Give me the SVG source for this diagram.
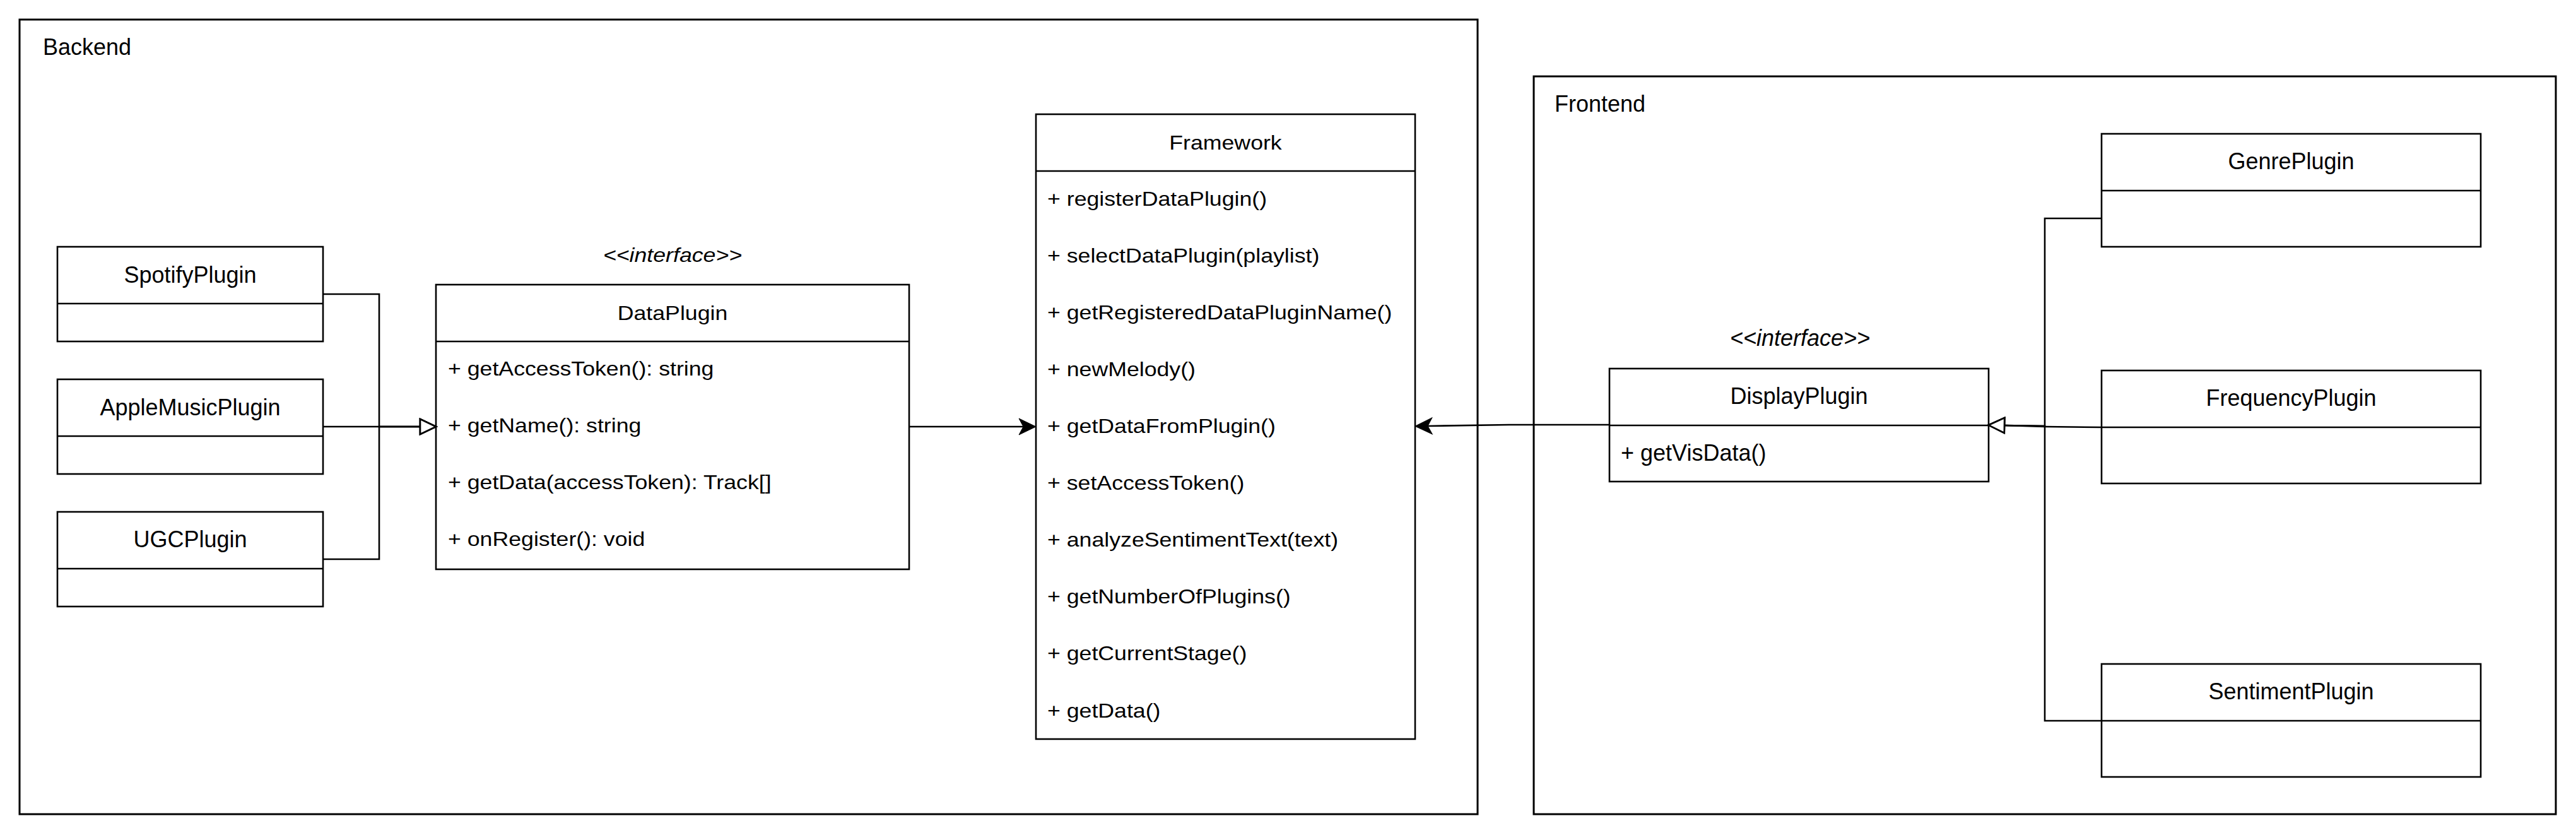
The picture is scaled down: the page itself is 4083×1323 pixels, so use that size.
<svg xmlns="http://www.w3.org/2000/svg" width="4083" height="1323" viewBox="0 0 4083 1323">
<style>
.t{font-family:"Liberation Sans",Arial,Helvetica,sans-serif;font-size:36px;fill:#000}
.s{font-size:30.5px}
.c{text-anchor:middle}
.i{font-style:italic}
.box{fill:#fff;stroke:#000;stroke-width:2.6}
.div{stroke:#000;stroke-width:2.6}
.cont{fill:#fff;stroke:#000;stroke-width:3}
.ln{fill:none;stroke:#000;stroke-width:2.6}
</style>
<defs>
<marker id="arrow" markerUnits="userSpaceOnUse" viewBox="-10 -15 32 30" markerWidth="32" markerHeight="30" refX="0" refY="0" orient="auto">
<path d="M20,0 L-7,-13 L0,0 L-7,13 Z" fill="#000" stroke="#000" stroke-width="1"/>
</marker>
<marker id="tri" markerUnits="userSpaceOnUse" viewBox="-3 -15 31 30" markerWidth="31" markerHeight="30" refX="0" refY="0" orient="auto">
<path d="M25,0 L0,-12 L0,12 Z" fill="#fff" stroke="#000" stroke-width="2.6"/>
</marker>
</defs>
<rect x="0" y="0" width="4083" height="1323" fill="#fff"/>

<g id="backend">
<rect class="cont" x="31" y="31" width="2311" height="1259"/>
<text class="t" x="68" y="87">Backend</text>
</g>
<g id="frontend">
<rect class="cont" x="2431" y="121" width="1620" height="1169"/>
<text class="t" x="2464" y="177">Frontend</text>
</g>

<g id="SpotifyPlugin">
<rect class="box" x="91" y="391" width="421" height="150"/>
<line class="div" x1="91" y1="481" x2="512" y2="481"/>
<text class="t c" x="301.5" y="448">SpotifyPlugin</text>
</g>
<g id="AppleMusicPlugin">
<rect class="box" x="91" y="601" width="421" height="150"/>
<line class="div" x1="91" y1="691" x2="512" y2="691"/>
<text class="t c" x="301.5" y="658">AppleMusicPlugin</text>
</g>
<g id="UGCPlugin">
<rect class="box" x="91" y="811" width="421" height="150"/>
<line class="div" x1="91" y1="901" x2="512" y2="901"/>
<text class="t c" x="301.5" y="867">UGCPlugin</text>
</g>

<g id="DataPlugin">
<g transform="translate(1066 0) scale(1.17 1)"><text class="t s c i" x="0" y="415">&lt;&lt;interface&gt;&gt;</text></g>
<rect class="box" x="691" y="451" width="750" height="451"/>
<line class="div" x1="691" y1="541" x2="1441" y2="541"/>
<g transform="translate(1066 0) scale(1.17 1)"><text class="t s c" x="0" y="507">DataPlugin</text></g>
<g transform="translate(710 0) scale(1.17 1)">
<text class="t s" x="0" y="595">+ getAccessToken(): string</text>
<text class="t s" x="0" y="685">+ getName(): string</text>
<text class="t s" x="0" y="775">+ getData(accessToken): Track[]</text>
<text class="t s" x="0" y="865">+ onRegister(): void</text>
</g>
</g>

<g id="Framework">
<rect class="box" x="1642" y="181" width="601" height="990"/>
<line class="div" x1="1642" y1="271" x2="2243" y2="271"/>
<g transform="translate(1942.5 0) scale(1.17 1)"><text class="t s c" x="0" y="237">Framework</text></g>
<g transform="translate(1660 0) scale(1.17 1)">
<text class="t s" x="0" y="326">+ registerDataPlugin()</text>
<text class="t s" x="0" y="416">+ selectDataPlugin(playlist)</text>
<text class="t s" x="0" y="506">+ getRegisteredDataPluginName()</text>
<text class="t s" x="0" y="596">+ newMelody()</text>
<text class="t s" x="0" y="686">+ getDataFromPlugin()</text>
<text class="t s" x="0" y="776">+ setAccessToken()</text>
<text class="t s" x="0" y="866">+ analyzeSentimentText(text)</text>
<text class="t s" x="0" y="956">+ getNumberOfPlugins()</text>
<text class="t s" x="0" y="1046">+ getCurrentStage()</text>
<text class="t s" x="0" y="1137">+ getData()</text>
</g>
</g>

<g id="DisplayPlugin">
<text class="t c i" x="2853" y="548">&lt;&lt;interface&gt;&gt;</text>
<rect class="box" x="2551" y="584" width="601" height="179"/>
<line class="div" x1="2551" y1="674" x2="3152" y2="674"/>
<text class="t c" x="2851.5" y="640">DisplayPlugin</text>
<text class="t" x="2569" y="730">+ getVisData()</text>
</g>

<g id="GenrePlugin">
<rect class="box" x="3331" y="212" width="601" height="179"/>
<line class="div" x1="3331" y1="302" x2="3932" y2="302"/>
<text class="t c" x="3631.5" y="268">GenrePlugin</text>
</g>
<g id="FrequencyPlugin">
<rect class="box" x="3331" y="587" width="601" height="179"/>
<line class="div" x1="3331" y1="677" x2="3932" y2="677"/>
<text class="t c" x="3631.5" y="643">FrequencyPlugin</text>
</g>
<g id="SentimentPlugin">
<rect class="box" x="3331" y="1052" width="601" height="179"/>
<line class="div" x1="3331" y1="1142" x2="3932" y2="1142"/>
<text class="t c" x="3631.5" y="1108">SentimentPlugin</text>
</g>

<g id="connectors">
<path class="ln" d="M512,466 L601,466 L601,676 L666,676" marker-end="url(#tri)"/>
<path class="ln" d="M512,676 L666,676" marker-end="url(#tri)"/>
<path class="ln" d="M512,886 L601,886 L601,676 L666,676" marker-end="url(#tri)"/>
<path class="ln" d="M1441,676 L1622,676" marker-end="url(#arrow)"/>
<path class="ln" d="M2551,673 L2392,673 L2263,675" marker-end="url(#arrow)"/>
<path class="ln" d="M3331,346 L3241,346 L3241,675 L3177,674" marker-end="url(#tri)"/>
<path class="ln" d="M3331,677 L3241,676 L3177,674" marker-end="url(#tri)"/>
<path class="ln" d="M3331,1142 L3241,1142 L3241,675 L3177,674" marker-end="url(#tri)"/>
</g>
</svg>
